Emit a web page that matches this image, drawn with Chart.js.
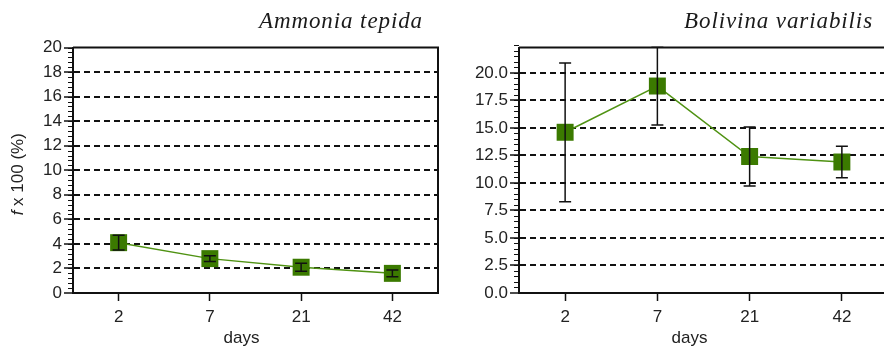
<!DOCTYPE html>
<html>
<head>
<meta charset="utf-8">
<script src="https://cdn.jsdelivr.net/npm/chart.js@4"></script>
<style>
  html, body { margin: 0; padding: 0; background: #fff; overflow: hidden; width: 884px; height: 348px; }
  #chartA { position: absolute; left: 0; top: 0; }
  #chartB { position: absolute; left: 440px; top: 0; }
</style>
</head>
<body>
<canvas id="chartA" width="450" height="348"></canvas>
<canvas id="chartB" width="460" height="348"></canvas>
<script>
// data
const days = ["2", "7", "21", "42"];

const ammoniaTitle = "Ammonia tepida";
const ammoniaMean = [4.1, 2.8, 2.1, 1.6];
const ammoniaErr = [0.6, 0.23, 0.33, 0.28];

const bolivinaTitle = "Bolivina variabilis";
const bolivinaMean = [14.6, 18.8, 12.4, 11.9];
const bolivinaErr = [6.3, 3.55, 2.67, 1.43];

const INK = "#111";
const SANS = "'Liberation Sans', Arial, Helvetica, sans-serif";
const SERIF = "'Liberation Serif', 'Times New Roman', serif";
const FS = 17;

// error bars, frame, minor ticks and the extra labels
const decor = {
  id: "decor",
  afterDatasetsDraw(chart, args, opts) {
    const { ctx, chartArea: a, scales: { x, y } } = chart;
    const means = chart.data.datasets[0].data;
    ctx.save();
    ctx.beginPath();
    ctx.rect(a.left, a.top - 1, a.right - a.left, a.bottom - a.top + 2);
    ctx.clip();
    ctx.strokeStyle = INK;
    ctx.lineWidth = 1.5;
    means.forEach((m, i) => {
      const px = x.getPixelForValue(i);
      const top = y.getPixelForValue(m + opts.err[i]);
      const bot = y.getPixelForValue(m - opts.err[i]);
      ctx.beginPath();
      ctx.moveTo(px, top); ctx.lineTo(px, bot);
      ctx.moveTo(px - opts.cap, top); ctx.lineTo(px + opts.cap, top);
      ctx.moveTo(px - opts.cap, bot); ctx.lineTo(px + opts.cap, bot);
      ctx.stroke();
    });
    ctx.restore();
  },
  afterDraw(chart, args, opts) {
    const { ctx, chartArea: a, scales: { x, y } } = chart;
    ctx.save();
    // top and right frame
    ctx.strokeStyle = INK;
    ctx.lineWidth = 2;
    ctx.beginPath();
    ctx.moveTo(a.left, a.top); ctx.lineTo(a.right, a.top); ctx.lineTo(a.right, a.bottom);
    ctx.stroke();

    // minor ticks on the y axis
    ctx.lineWidth = 1;
    const n = Math.round(y.max / opts.minor);
    for (let k = 1; k <= n; k++) {
      const v = k * opts.minor;
      const py = Math.round(y.getPixelForValue(v)) + 0.5;
      ctx.beginPath();
      ctx.moveTo(a.left - 5, py); ctx.lineTo(a.left, py);
      ctx.stroke();
    }

    // species name
    ctx.fillStyle = "#1a1a1a";
    ctx.font = "italic 23px " + SERIF;
    ctx.letterSpacing = "0.9px";
    ctx.textAlign = "right";
    ctx.textBaseline = "alphabetic";
    ctx.fillText(opts.title, a.right - 15, 28);
    ctx.letterSpacing = "0px";

    // x axis title
    const cx = (x.getPixelForValue(0) + x.getPixelForValue(days.length - 1)) / 2 - 14;
    ctx.font = FS + "px " + SANS;
    ctx.textAlign = "center";
    ctx.textBaseline = "middle";
    ctx.fillStyle = "#222";
    ctx.fillText("days", cx, 338);

    // y axis title with italic f
    if (opts.yTitle) {
      ctx.translate(23, (a.top + a.bottom) / 2 + 4);
      ctx.rotate(-Math.PI / 2);
      ctx.textAlign = "left";
      ctx.textBaseline = "alphabetic";
      const rest = " x 100 (%)";
      ctx.font = "italic " + FS + "px " + SANS;
      const fw = ctx.measureText("f").width;
      ctx.font = FS + "px " + SANS;
      const rw = ctx.measureText(rest).width;
      const x0 = -(fw + rw) / 2;
      ctx.font = "italic " + FS + "px " + SANS;
      ctx.fillText("f", x0, 0);
      ctx.font = FS + "px " + SANS;
      ctx.fillText(rest, x0 + fw, 0);
    }
    ctx.restore();
  }
};

function makeChart(id, mean, err, title, yMax, yStep, minor, yWidth, padRight, digits, yTitle) {
  return new Chart(document.getElementById(id), {
    type: "line",
    data: {
      labels: days,
      datasets: [{
        data: mean,
        borderColor: "#4f9212",
        borderWidth: 1.5,
        backgroundColor: "#3b7a00",
        pointBackgroundColor: "#3b7a00",
        pointBorderColor: "#3b7a00",
        pointBorderWidth: 0,
        pointStyle: "rect",
        pointRadius: 12,
        tension: 0,
        clip: false
      }]
    },
    options: {
      responsive: false,
      animation: false,
      devicePixelRatio: 1,
      layout: { padding: { top: 47.5, right: padRight, left: 0, bottom: 0 } },
      plugins: {
        legend: { display: false },
        tooltip: { enabled: false },
        decor: { err: err, cap: 6, title: title, minor: minor, yTitle: yTitle }
      },
      scales: {
        x: {
          type: "category",
          offset: true,
          grid: { drawOnChartArea: false, offset: false, tickLength: 8, tickColor: INK, tickWidth: 1.5 },
          border: { color: INK, width: 2 },
          ticks: { color: "#222", font: { family: SANS, size: FS }, padding: 6, maxRotation: 0 },
          afterFit(s) { s.height = 55; }
        },
        y: {
          min: 0,
          max: yMax,
          ticks: {
            stepSize: yStep,
            includeBounds: false,
            color: "#222",
            font: { family: SANS, size: FS },
            padding: 2,
            callback: (v) => v.toFixed(digits)
          },
          grid: {
            color: (c) => (c.tick && (c.tick.value === 0 || c.tick.value >= yMax)) ? "rgba(0,0,0,0)" : INK,
            lineWidth: 2,
            tickLength: 9,
            tickColor: INK,
            tickWidth: 1.5
          },
          border: { color: INK, width: 2, dash: [6, 4] },
          afterFit(s) { s.width = yWidth; }
        }
      }
    },
    plugins: [decor]
  });
}

makeChart("chartA", ammoniaMean, ammoniaErr, ammoniaTitle, 20, 2, 0.4, 73, 7.3, 0, true);
makeChart("chartB", bolivinaMean, bolivinaErr, bolivinaTitle, 22.3, 2.5, 0.5, 79, 11.4, 1, false);
</script>
</body>
</html>
